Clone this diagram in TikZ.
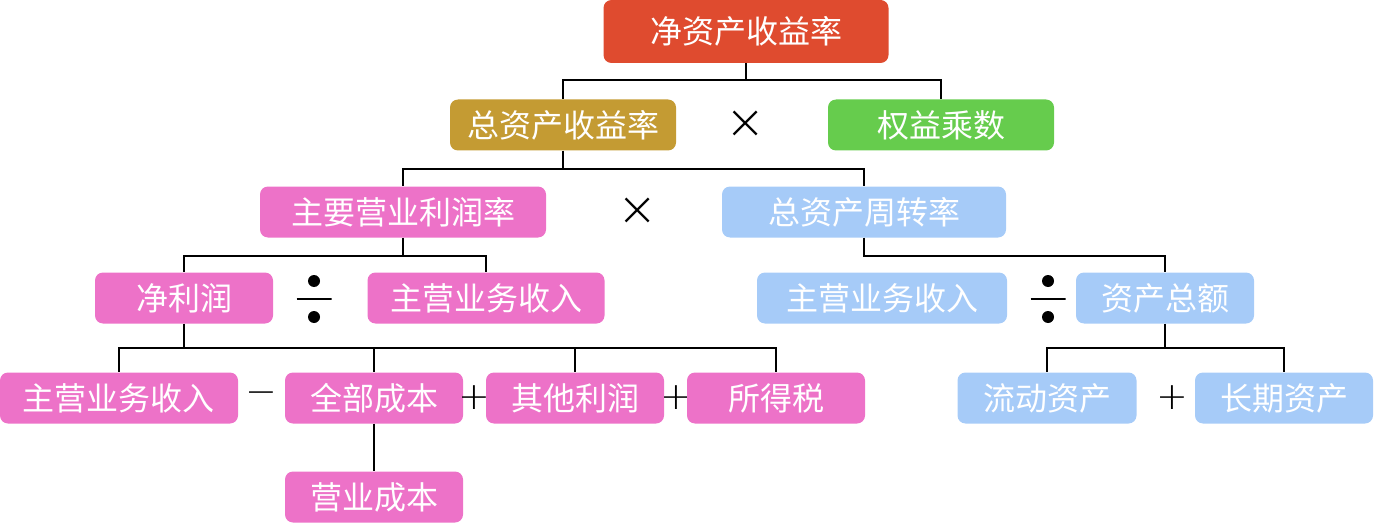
\documentclass[tikz,border=0pt]{standalone}
\usepackage{fontspec}
\newfontfamily\cjk{Noto Sans CJK SC}
\newfontfamily\symfont{DejaVu Sans ExtraLight}
\usetikzlibrary{positioning}

\definecolor{roered}{RGB}{223,75,47}
\definecolor{roagold}{RGB}{196,155,51}
\definecolor{eqgreen}{RGB}{102,204,77}
\definecolor{prpink}{RGB}{237,114,200}
\definecolor{tablue}{RGB}{166,203,248}

\tikzset{
  box/.style={rounded corners=8pt, inner sep=0pt, minimum height=51pt,
    text=white, font=\cjk\fontsize{32}{32}\selectfont},
  op/.style={inner sep=0pt, font=\symfont\fontsize{38}{38}\selectfont},
  timesop/.style={op, font=\symfont\fontsize{48}{48}\selectfont},
  divop/.style={inner sep=0pt, minimum width=35pt, minimum height=50pt,
    path picture={
      \fill ([yshift=18pt]path picture bounding box.center) circle (6pt);
      \fill ([yshift=-18pt]path picture bounding box.center) circle (6pt);
      \draw[line width=2pt] (path picture bounding box.west) -- (path picture bounding box.east);
    }},
  link/.style={line width=1.6pt}
}

\begin{document}
\begin{tikzpicture}[x=1pt,y=-1pt]
  \useasboundingbox (0,0) rectangle (1376,524);
  % level 1
  \node[box, fill=roered, minimum width=285pt, minimum height=63pt] (roe) at (746,31.5) {净资产收益率};
  % level 2
  \node[box, fill=roagold, minimum width=226pt] (roa) at (563,125) {总资产收益率};
  \node[timesop] (times1) at (746,125) {×};
  \node[box, fill=eqgreen, minimum width=226pt] (em) at (941,125) {权益乘数};
  % level 3
  \node[box, fill=prpink, minimum width=286pt] (opm) at (403,212) {主要营业利润率};
  \node[timesop] (times2) at (638,212) {×};
  \node[box, fill=tablue, minimum width=284pt] (tat) at (864,212) {总资产周转率};
  % level 4
  \node[box, fill=prpink, minimum width=178pt] (np) at (184,298) {净利润};
  \node[divop] (div1) at (314,299) {};
  \node[box, fill=prpink, minimum width=237pt] (rev1) at (486,298) {主营业务收入};
  \node[box, fill=tablue, minimum width=250pt] (rev2) at (882,298) {主营业务收入};
  \node[divop] (div2) at (1048,299) {};
  \node[box, fill=tablue, minimum width=178pt] (ta) at (1165,298) {资产总额};
  % level 5
  \node[box, fill=prpink, minimum width=238pt] (rev3) at (119,398) {主营业务收入};
  \node[op] (minus) at (261,398) {−};
  \node[box, fill=prpink, minimum width=178pt] (cost) at (374,398) {全部成本};
  \node[op] (plus1) at (474,398) {+};
  \node[box, fill=prpink, minimum width=178pt] (other) at (575,398) {其他利润};
  \node[op] (plus2) at (676,398) {+};
  \node[box, fill=prpink, minimum width=178pt] (tax) at (776,398) {所得税};
  \node[box, fill=tablue, minimum width=179pt] (ca) at (1047,398) {流动资产};
  \node[op] (plus3) at (1172,398) {+};
  \node[box, fill=tablue, minimum width=178pt] (lta) at (1284,398) {长期资产};
  % level 6
  \node[box, fill=prpink, minimum width=178pt] (oc) at (374,497) {营业成本};

  % junctions
  \coordinate (j1) at (746,80);
  \coordinate (j2) at (563,169);
  \coordinate (j3) at (403,256);
  \coordinate (j4) at (864,256);
  \coordinate (j5) at (184,348);
  \coordinate (j6) at (1165,348);

  \draw[link] (roe.south) -- (j1) -| (roa.north);
  \draw[link] (j1) -| (em.north);
  \draw[link] (roa.south) -- (j2) -| (opm.north);
  \draw[link] (j2) -| (tat.north);
  \draw[link] (opm.south) -- (j3) -| (np.north);
  \draw[link] (j3) -| (rev1.north);
  \draw[link] (tat.south) -- (j4) -| (ta.north);
  \draw[link] (np.south) -- (j5) -| (rev3.north);
  \draw[link] (j5) -| (cost.north);
  \draw[link] (j5) -| (other.north);
  \draw[link] (j5) -| (tax.north);
  \draw[link] (cost.south) -- (oc.north);
  \draw[link] (ta.south) -- (j6) -| (ca.north);
  \draw[link] (j6) -| (lta.north);
\end{tikzpicture}
\end{document}
